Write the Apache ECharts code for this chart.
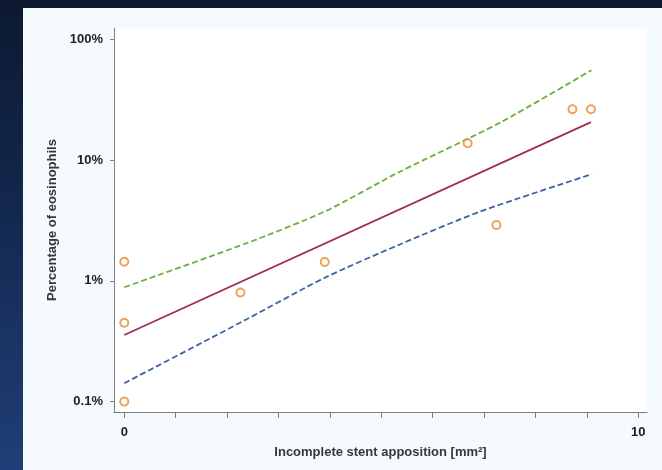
<!DOCTYPE html>
<html>
<head>
<meta charset="utf-8">
<script src="https://cdn.jsdelivr.net/npm/echarts@6/dist/echarts.min.js"></script>
<style>
html,body{margin:0;padding:0;}
body{
    width:662px;height:470px;overflow:hidden;position:relative;
    background:linear-gradient(to bottom,#0c1930 0%,#13284f 45%,#203f78 100%);
}
#panel{
    position:absolute;left:23px;top:8px;right:0;bottom:0;
    background:#f4fafd;
}
#chart{
    position:absolute;left:0;top:0;width:662px;height:470px;
}
</style>
</head>
<body>
<div id="panel"></div>
<div id="chart"></div>
<script>
// observed points [area mm2, % eosinophils]
var observed = [
    [0, 1.44], [0, 0.45], [0, 0.1],
    [2.26, 0.80], [3.90, 1.43],
    [6.68, 13.8], [7.24, 2.9],
    [8.72, 26.3], [9.08, 26.3]
];
// regression line
var fitLine = [[0, 0.356], [9.08, 20.6]];
// upper confidence band (green dashed)
var upperBand = [[0, 0.885], [2.38, 2.05], [3.9, 3.75], [5.36, 8.0], [7.31, 20.4], [9.09, 55.5]];
// lower confidence band (blue dashed)
var lowerBand = [[0, 0.142], [2.38, 0.48], [3.9, 1.06], [5.36, 2.0], [6.92, 3.74], [9.1, 7.65]];

var xTicks = [0, 1, 2, 3, 4, 5, 6, 7, 8, 9, 10];
var xLabels = [0, 10];
var yTicks = [0.1, 1, 10, 100];

var myChart = echarts.init(document.getElementById('chart'));

var axisColor = '#7a7f84';
var labelFont = '"Liberation Sans", Arial, sans-serif';

myChart.setOption({
    animation:false,
    grid:{
        left:114,
        right:15,
        top:28,
        bottom:58,
        show:true,
        backgroundColor:'#ffffff',
        borderWidth:0
    },
    xAxis:{
        type:'value',
        min:-0.2,
        max:10.17,
        name:'Incomplete stent apposition [mm²]',
        nameLocation:'middle',
        nameGap:34,
        nameTextStyle:{
            color:'#383838',
            fontSize:13,
            fontWeight:'bold',
            fontFamily:labelFont
        },
        axisLine:{
            show:true,
            onZero:false,
            lineStyle:{color:axisColor,width:1}
        },
        axisTick:{
            show:true,
            length:6,
            customValues:xTicks,
            lineStyle:{color:axisColor}
        },
        axisLabel:{
            customValues:xLabels,
            margin:14,
            color:'#1e1e1e',
            fontSize:13,
            fontWeight:'bold',
            fontFamily:labelFont
        },
        splitLine:{show:false}
    },
    yAxis:{
        type:'log',
        logBase:10,
        min:0.082,
        max:124,
        name:'Percentage of eosinophils',
        nameLocation:'middle',
        nameGap:48,
        nameTextStyle:{
            color:'#383838',
            fontSize:13,
            fontWeight:'bold',
            fontFamily:labelFont
        },
        axisLine:{
            show:true,
            onZero:false,
            lineStyle:{color:axisColor,width:1}
        },
        axisTick:{
            show:true,
            length:4,
            customValues:yTicks,
            lineStyle:{color:axisColor}
        },
        axisLabel:{
            customValues:yTicks,
            margin:11,
            color:'#1e1e1e',
            fontSize:13,
            fontWeight:'bold',
            fontFamily:labelFont,
            formatter:function(v){
                return (+v.toPrecision(3)) + '%';
            }
        },
        splitLine:{show:false}
    },
    series:[
        {
            name:'upper',
            type:'line',
            data:upperBand,
            smooth:0.25,
            symbol:'none',
            lineStyle:{color:'#67b13c',width:1.8,type:[6,3]}
        },
        {
            name:'lower',
            type:'line',
            data:lowerBand,
            smooth:0.25,
            symbol:'none',
            lineStyle:{color:'#3b63a6',width:1.8,type:[6,3]}
        },
        {
            name:'fit',
            type:'line',
            data:fitLine,
            symbol:'none',
            lineStyle:{color:'#a02c52',width:1.8}
        },
        {
            name:'observed',
            type:'scatter',
            data:observed,
            symbol:'circle',
            symbolSize:8,
            itemStyle:{
                color:'#ffffff',
                borderColor:'#ea8a2e',
                borderWidth:2
            },
            z:5
        }
    ]
});
</script>
</body>
</html>
